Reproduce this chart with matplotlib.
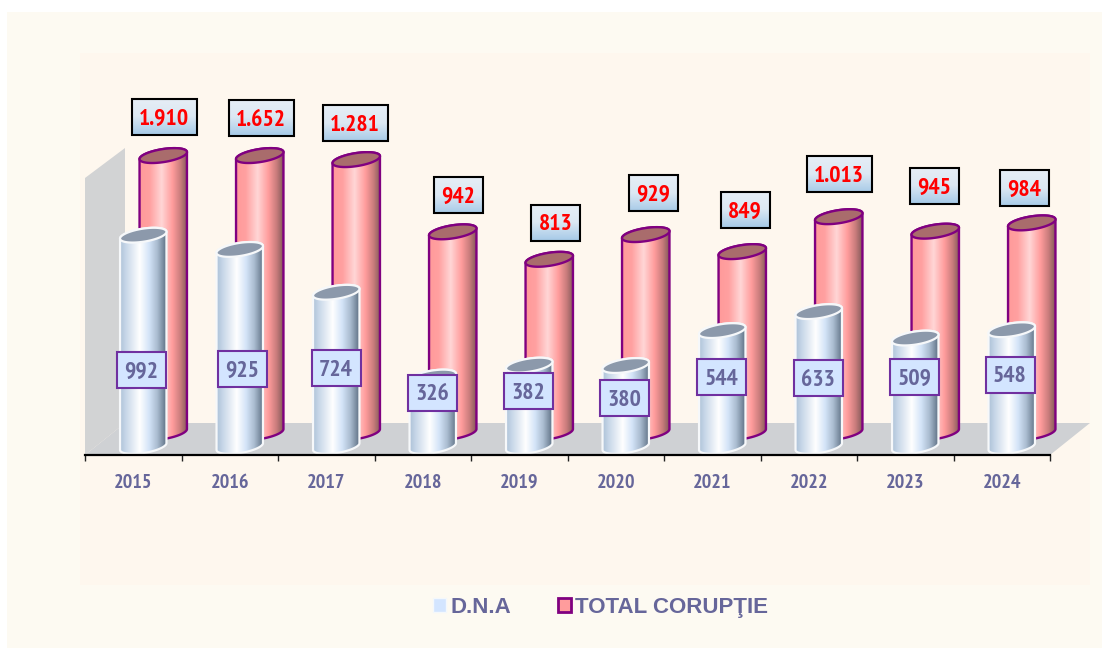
import numpy as np
import matplotlib
matplotlib.use("Agg")
import matplotlib.pyplot as plt
from matplotlib import font_manager as fm
from matplotlib.colors import LinearSegmentedColormap
from matplotlib.patches import Polygon, Rectangle, Patch

years = ["2015", "2016", "2017", "2018", "2019", "2020", "2021", "2022", "2023", "2024"]
dna = [992, 925, 724, 326, 382, 380, 544, 633, 509, 548]
total = [1910, 1652, 1281, 942, 813, 929, 849, 1013, 945, 984]
total_text = ["1.910", "1.652", "1.281", "942", "813", "929", "849", "1.013", "945", "984"]
series_names = ["D.N.A", "TOTAL CORUPŢIE"]
value_ceiling = 1300

# label box centres, in picture pixels
dna_label_xy = [(141, 370), (242.5, 369), (336, 367.5), (432.5, 392.5), (528.5, 391), (624.5, 398),
                (721.5, 377), (818, 378), (914.5, 377), (1010, 374.5)]
total_label_xy = [(164, 116.5), (261, 117.5), (355, 123), (458, 195), (555.5, 222.5), (653, 193),
                  (745, 209.5), (839, 174), (934, 185.5), (1024, 188)]

W, H = 1102, 648
PX_X = 96.5   # pixels per category
PX_Y = 0.213  # pixels per value unit
AX_L, AX_R, AX_B = 85, 1050, 455
Y_LOW = -33

names = {f.name for f in fm.fontManager.ttflist}
narrow = next((n for n in ["Liberation Sans Narrow", "PT Sans Narrow", "Pragati Narrow", "Archivo Narrow",
                           "Roboto Condensed", "Liberation Sans"] if n in names), "DejaVu Sans")
TEXT = "#66669A"

fig = plt.figure(figsize=(W / 100, H / 100), dpi=100, facecolor="white")

# background layer in pixels
bg = fig.add_axes([0, 0, 1, 1], zorder=0)
bg.set_xlim(0, W); bg.set_ylim(H, 0); bg.axis("off")
bg.add_patch(Rectangle((7, 12), W - 7, H - 12, fc="#FDFAF2", ec="none"))
bg.add_patch(Rectangle((80, 53), 1010, 532, fc="#FEF7EE", ec="none"))
bg.add_patch(Polygon([(85, 178), (125, 148), (125, 423), (85, 455)], fc="#D2D3D4", ec="none"))
bg.add_patch(Polygon([(85, 455), (1050, 455), (1090, 423), (125, 423)], fc="#CFD1D4", ec="none"))

# chart axes
top_px = AX_B - (value_ceiling - Y_LOW) * PX_Y
ax = fig.add_axes([AX_L / W, 1 - AX_B / H, (AX_R - AX_L) / W, (AX_B - top_px) / H], zorder=1)
ax.patch.set_visible(False)

white_cm = LinearSegmentedColormap.from_list("w", [(0, "#AFC3D8"), (0.12, "#C6D6E8"), (0.42, "#FFFFFF"),
                                                   (0.62, "#D4E4F8"), (0.8, "#A9BBCF"), (0.97, "#66788C"), (1, "#7A8A9C")])
pink_cm = LinearSegmentedColormap.from_list("p", [(0, "#FF9A9A"), (0.2, "#FFA0A0"), (0.45, "#FFD6D6"),
                                                  (0.68, "#FF9C9C"), (0.85, "#C87C7C"), (1, "#7E5656")])
grad = np.linspace(0, 1, 256).reshape(1, -1)
A_TILT = np.deg2rad(9)


def ell(x0, y0, a, b, t):
    px = a * np.cos(t) * np.cos(A_TILT) + b * np.sin(t) * np.sin(A_TILT)
    py = -a * np.cos(t) * np.sin(A_TILT) + b * np.sin(t) * np.cos(A_TILT)  # + is downward
    return x0 + px / PX_X, y0 - py / PX_Y


def cylinder(x0, base, val, a, b, cmap, face, edge, lw, z):
    val = min(val, value_ceiling)
    y_bot, y_top = base, base + val
    t1 = np.linspace(0, np.pi, 60)
    xb, yb = ell(x0, y_bot, a, b, t1)
    xt, yt = ell(x0, y_top, a, b, t1 + np.pi)
    xs = np.concatenate([xb, xt]); ys = np.concatenate([yb, yt])
    body = Polygon(np.c_[xs, ys], closed=True, fc="none", ec=edge, lw=lw, zorder=z + 0.2,
                   transform=ax.transData, clip_on=False, joinstyle="round")
    ax.add_patch(body)
    im = ax.imshow(grad, cmap=cmap, aspect="auto", interpolation="bilinear", zorder=z,
                   extent=[xs.min(), xs.max(), ys.min(), ys.max()])
    im.set_clip_box(fig.bbox)
    im.set_clip_path(Polygon(np.c_[xs, ys], closed=True, transform=ax.transData))
    t2 = np.linspace(0, 2 * np.pi, 120)
    xe, ye = ell(x0, y_top, a, b, t2)
    ax.add_patch(Polygon(np.c_[xe, ye], closed=True, fc=face, ec=edge, lw=lw, zorder=z + 0.3, clip_on=False))


x = np.arange(len(years))
for i in x:
    cylinder(i + 30 / PX_X, 15.5 / PX_Y, total[i], 24, 6.5, pink_cm, "#A96C6C", "#800080", 1.7, 2 + i * 0.01)
for i in x:
    cylinder(i + 10 / PX_X, 1.5 / PX_Y, dna[i], 23.5, 6.5, white_cm, "#8C99AB", "#F6F8FA", 1.6, 3 + i * 0.01)

ax.set_xlim(-0.5, len(years) - 0.5)
ax.set_ylim(Y_LOW, value_ceiling)
for s in ["top", "left", "right"]:
    ax.spines[s].set_visible(False)
ax.spines["bottom"].set_linewidth(1.6)
ax.spines["bottom"].set_zorder(6)
ax.set_yticks([])
ax.set_xticks(x)
ax.set_xticklabels(years, fontfamily=narrow, fontweight="bold", fontsize=14.5, color=TEXT, va="baseline")
ax.tick_params(axis="x", which="major", length=0, pad=23.5)
ax.set_xticks(np.arange(-0.5, len(years)), minor=True)
ax.tick_params(axis="x", which="minor", length=4, width=1, color="#222222")

# label layer in pixels
top = fig.add_axes([0, 0, 1, 1], zorder=3)
top.set_xlim(0, W); top.set_ylim(H, 0); top.axis("off")
box_cm = LinearSegmentedColormap.from_list("b", ["#E6EEF6", "#DCE8F3", "#A8CBE8"])
vgrad = np.linspace(0, 1, 64).reshape(-1, 1)

for (cx, cy), v in zip(dna_label_xy, dna):
    top.add_patch(Rectangle((cx - 24.5, cy - 18), 49, 36, fc="#D3E5FF", ec="#7030A0", lw=1.5, zorder=2))
    top.text(cx, cy + 8, str(v), ha="center", va="baseline", fontfamily=narrow, fontweight="bold",
             fontsize=17, color=TEXT, zorder=3)

for (cx, cy), t in zip(total_label_xy, total_text):
    w = 65 if "." in t else 49
    top.imshow(vgrad, cmap=box_cm, aspect="auto", extent=[cx - w / 2, cx + w / 2, cy + 18, cy - 18], zorder=2)
    top.add_patch(Rectangle((cx - w / 2, cy - 18), w, 36, fc="none", ec="black", lw=1.5, zorder=3))
    top.text(cx, cy + 8, t, ha="center", va="baseline", fontfamily=narrow, fontweight="bold",
             fontsize=17, color="#FF0000", zorder=4)
top.set_xlim(0, W); top.set_ylim(H, 0)

handles = [Patch(fc="#D3E5FF", ec="#F4F8FC", lw=1, label=series_names[0]),
           Patch(fc="#FF9C9C", ec="#800080", lw=2, label=series_names[1])]
leg = fig.legend(handles=handles, loc="center", bbox_to_anchor=(600.5 / W, 1 - 607.5 / H), ncol=2, frameon=False,
                 handlelength=0.6, handleheight=0.6, handletextpad=0.2, columnspacing=2.1,
                 prop={"family": "Liberation Sans", "weight": "bold", "size": 16})
for t in leg.get_texts():
    t.set_color(TEXT)

fig.savefig("out.png", dpi=100, facecolor=fig.get_facecolor())
